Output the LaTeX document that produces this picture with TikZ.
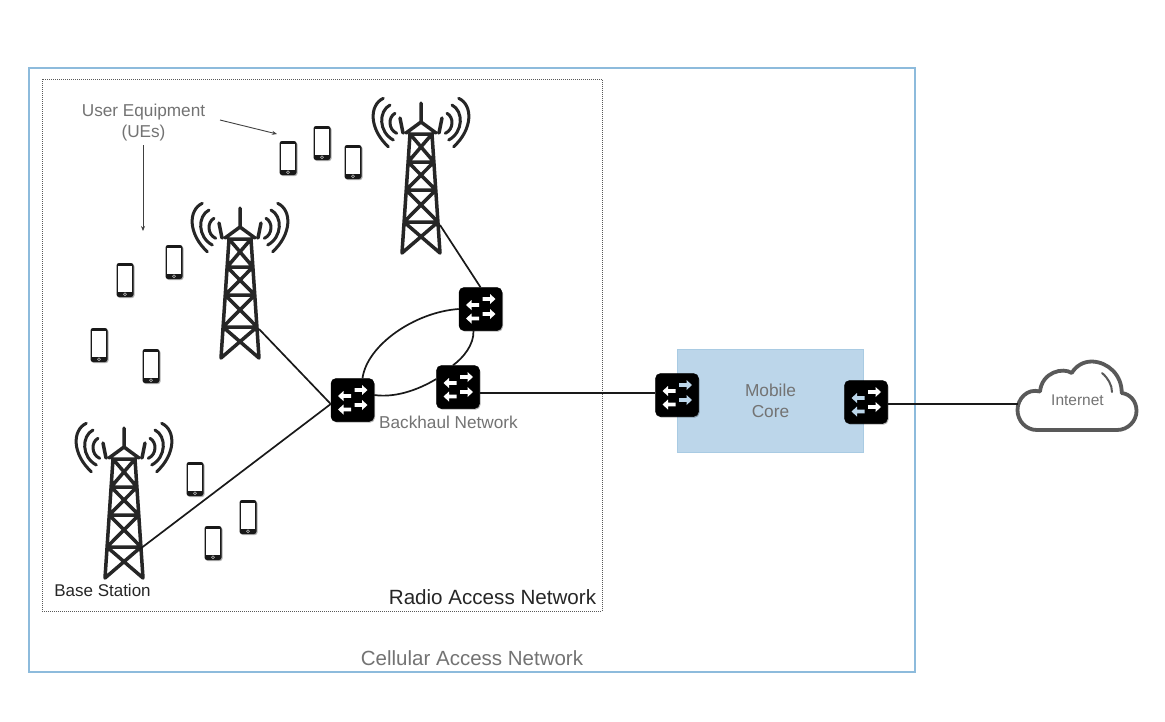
\documentclass[tikz,border=0pt]{standalone}
\usepackage{fontspec}
\usetikzlibrary{arrows.meta,shadows}
\setmainfont{Liberation Sans}
\definecolor{framebl}{HTML}{8DBBDC}
\definecolor{corebl}{HTML}{BCD6EA}
\definecolor{coreln}{HTML}{A9CBE3}
\definecolor{txtgray}{HTML}{737373}
\definecolor{cloudgr}{HTML}{595959}
\tikzset{
  switchbox/.style={fill=black,draw=black,rounded corners=5pt,minimum size=43pt,inner sep=0pt,line width=0.5pt,
    drop shadow={shadow xshift=1pt,shadow yshift=-1.2pt,fill=black,opacity=0.3}},
  link/.style={black!90,line width=1.7pt},
  note/.style={->,>={Stealth[length=5pt,width=4pt]},line width=0.9pt,black!75},
  lbl/.style={inner sep=0pt,text=txtgray,font=\fontsize{17.2}{21}\selectfont,align=center},
  pics/leftarrow/.style={code={
    \fill (0,-1.8)--(7.5,-1.8)--(7.5,1.8)--(0,1.8)--(0,5)--(-5.5,0)--(0,-5)--cycle;
  }},
  pics/rightarrow/.style={code={
    \fill (0,-1.8)--(-7.5,-1.8)--(-7.5,1.8)--(0,1.8)--(0,5)--(5.5,0)--(0,-5)--cycle;
  }},
  pics/tower/.style={code={
    \draw[line width=3.5pt,black!85,line cap=round,line join=round]
      (-11,31)--(-19,150) (11,31)--(19,150)
      (-11,31)--(11,31) (-12.9,59)--(12.9,59) (-14.8,87)--(14.8,87) (-17,119)--(17,119)
      (-11,31)--(12.9,59) (11,31)--(-12.9,59)
      (-12.9,59)--(14.8,87) (12.9,59)--(-14.8,87)
      (-14.8,87)--(17,119) (14.8,87)--(-17,119)
      (-17,119)--(19,150) (17,119)--(-19,150)
      (0,0)--(0,19) (-15,30)--(0,19)--(15,30) (-21,15)--(-18,30) (21,15)--(18,30);
    \foreach \s in {-1,1}{
      \draw[line width=3pt,black!85,line cap=round]
        (\s*37.7,-4.7) .. controls (\s*52,2) and (\s*52,26) .. (\s*32.7,43.7)
        (\s*31,2) .. controls (\s*42.6,8) and (\s*42.6,29) .. (\s*27.7,37)
        (\s*26,10.3) .. controls (\s*32.9,14) and (\s*32.9,26.6) .. (\s*24.3,30.3);
    }
  }},
  pics/phone/.style={code={
    \fill[black!30,rounded corners=2.5pt] (-7.5,-16) rectangle (9.5,18);
    \fill[black!90,rounded corners=2.5pt] (-8.5,-17) rectangle (8.5,17);
    \fill[white] (-7.2,-14.5) rectangle (7.2,11.5);
    \draw[white!75!black,line width=0.6pt] (0,14.2) circle (1.5pt);
  }},
  pics/swicon/.style 2 args={code={
    \begin{scope}[#1]
      \pic at (-9,-4) {leftarrow};
      \pic at (-9,9.5) {leftarrow};
    \end{scope}
    \begin{scope}[#2]
      \pic at (9.5,-10) {rightarrow};
      \pic at (9.5,5) {rightarrow};
    \end{scope}
  }}
}
\begin{document}
\begin{tikzpicture}[x=1pt,y=-1pt]
\useasboundingbox (0,0) rectangle (1165,721);
\fill[white] (0,0) rectangle (1165,721);
% frames
\node[draw=framebl,line width=1.5pt,minimum width=886pt,minimum height=604pt,inner sep=0pt] (outer) at (472,370) {};
\node[draw=black!65,dash pattern=on 1pt off 1pt,line width=1pt,minimum width=560pt,minimum height=532pt,inner sep=0pt] (ran) at (322,345) {};
\node[fill=corebl,draw=coreln,line width=0.8pt,minimum width=186pt,minimum height=103pt,inner sep=0pt] (core) at (770,400.5) {};
% towers
\pic at (421,103) {tower};
\pic at (240,208) {tower};
\pic at (124,428) {tower};
\coordinate (t1) at (440,225);
\coordinate (t2) at (259,329);
\coordinate (t3) at (140,549);
% phones
\foreach \x/\y in {288/158,322/143,353/162,125/280,174/262,99/345,151/366,195/479,248/517,213/543}
  \pic at (\x,\y) {phone};
% links
\coordinate (cloudw) at (1018,404);
% switches
\node[switchbox] (swa) at (352.5,400) {};
\node[switchbox] (swb) at (480.5,309) {};
\node[switchbox] (swc) at (458,387) {};
\node[switchbox] (swd) at (677,395) {};
\node[switchbox] (swe) at (866,402) {};
\foreach \n in {swa,swb,swc} \pic at (\n) {swicon={white}{white}};
\pic at (swd) {swicon={white}{fill=corebl}};
\pic at (swe) {swicon={fill=corebl}{white}};
% cloud
\node[inner sep=0pt,text=txtgray,font=\fontsize{15.5}{18}\selectfont] (inet) at (1077.5,400.5) {Internet};
\draw[cloudgr,line width=3.8pt,line join=round,line cap=round]
  (1037,430) -- (1117,430)
  .. controls (1128,430) and (1136.5,421) .. (1136.5,411)
  .. controls (1136.5,401) and (1130,394) .. (1121.7,393)
  .. controls (1122,375) and (1108,362) .. (1092,361.5)
  .. controls (1083,361.5) and (1076,366) .. (1071.7,373)
  .. controls (1063,367) and (1042,372) .. (1040,391.5)
  .. controls (1027,388) and (1017.5,399) .. (1017.5,410)
  .. controls (1017.5,421) and (1026,430) .. (1037,430);
\draw[cloudgr,line width=2pt,line cap=round] (1102,373) .. controls (1108,378) and (1112,385) .. (1112,392);
% links
\draw[link] (t1) -- (swb.north);
\path (swa.west) ++(0,4) coordinate (awest);
\draw[link] (t2) -- (awest);
\draw[link] (t3) -- (awest);
\path (swa.north) ++(10,0) coordinate (aup);
\draw[link] (aup) .. controls (367,345) and (415,312) .. (swb.west);
\path (swa.east) ++(0,-5) coordinate (art);
\path (swc.west) ++(0,-8) coordinate (cwest);
\draw[link] (art) .. controls (395,398) and (418,390) .. (cwest);
\path (swc.north) ++(-5,0) coordinate (cup);
\path (swb.south) ++(-7,0) coordinate (bdn);
\draw[link] (cup) .. controls (463,358) and (474,345) .. (bdn);
\path (swc.east) ++(0,6) coordinate (crt);
\draw[link] (crt) -- (crt -| swd.west);
\path (swe.east) ++(0,2) coordinate (ert);
\draw[link] (ert) -- (cloudw);
% labels
\node[lbl] (ue) at (143.5,123) {User Equipment\\(UEs)};
\coordinate (uea) at (220,120);
\coordinate (ueb) at (277,134);
\coordinate (uec) at (143,145);
\coordinate (ued) at (143,231);
\draw[note] (uea) -- (ueb);
\draw[note] (uec) -- (ued);
\node[lbl] (bh) at (448.5,422) {Backhaul Network};
\node[lbl,text=black!85,font=\fontsize{17}{20}\selectfont] (bs) at (102.5,590) {Base Station};
\node[lbl,text=black!85,font=\fontsize{20.6}{24}\selectfont] (rl) at (492.5,597) {Radio Access Network};
\node[lbl,font=\fontsize{20.5}{24}\selectfont] (cl) at (472,658) {Cellular Access Network};
\node[lbl,font=\fontsize{17.3}{20.5}\selectfont] (mc) at (770.5,401) {Mobile\\Core};
\end{tikzpicture}
\end{document}
